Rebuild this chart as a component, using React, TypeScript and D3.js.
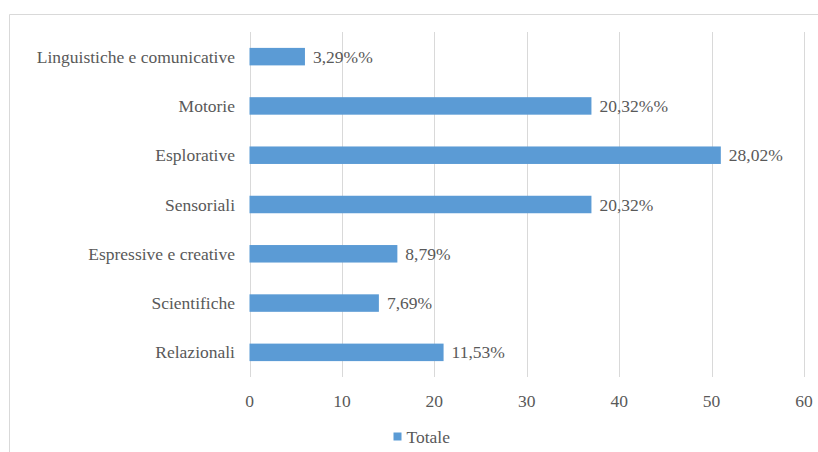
import React from "react";
import * as d3 from "d3";

const categories = [
  "Linguistiche e comunicative",
  "Motorie",
  "Esplorative",
  "Sensoriali",
  "Espressive e creative",
  "Scientifiche",
  "Relazionali",
];
const values = [6, 37, 51, 37, 16, 14, 21];
const valueLabels = ["3,29%%", "20,32%%", "28,02%", "20,32%", "8,79%", "7,69%", "11,53%"];
const xTicks = [0, 10, 20, 30, 40, 50, 60];
const seriesName = "Totale";

const W = 818;
const H = 452;
const FONT = "Liberation Serif, Tinos, Times New Roman, DejaVu Serif, serif";
const TEXT = "#595959";
const GRID = "#D9D9D9";
const BAR = "#5B9BD5";

export default function App() {
  const x = d3.scaleLinear().domain([0, 60]).range([249.5, 804]);
  const y = d3
    .scaleBand<string>()
    .domain(categories)
    .range([32, 377])
    .paddingInner(0.645)
    .paddingOuter(0.3225);
  const bh = y.bandwidth();
  const ts: React.CSSProperties = { fontFamily: FONT, fontSize: "17.5px" };

  return (
    <svg
      width={W}
      height={H}
      style={{ position: "absolute", left: 0, top: 0, background: "#fff" }}
    >
      <rect x={0} y={0} width={W} height={H} fill="#fff" />
      <line x1={9.5} y1={14.5} x2={818} y2={14.5} stroke={GRID} strokeWidth={1} />
      <line x1={9.5} y1={14.5} x2={9.5} y2={452} stroke={GRID} strokeWidth={1} />
      {xTicks.map((t) => (
        <line
          key={"g" + t}
          x1={Math.round(x(t)) + 0.5}
          x2={Math.round(x(t)) + 0.5}
          y1={32}
          y2={377}
          stroke={GRID}
          strokeWidth={1}
        />
      ))}
      {xTicks.map((t) => (
        <text key={"t" + t} x={x(t)} y={401} dy="0.35em" textAnchor="middle" style={ts} fill={TEXT}>
          {t}
        </text>
      ))}
      {categories.map((c, i) => (
        <rect
          key={"b" + c}
          x={x(0)}
          y={y(c)!}
          width={x(values[i]) - x(0)}
          height={bh}
          fill={BAR}
        />
      ))}
      {categories.map((c) => (
        <text
          key={"c" + c}
          x={235}
          y={y(c)! + bh / 2}
          dy="0.35em"
          textAnchor="end"
          style={ts}
          fill={TEXT}
        >
          {c}
        </text>
      ))}
      {categories.map((c, i) => (
        <text
          key={"v" + c}
          x={x(values[i]) + 8}
          y={y(c)! + bh / 2}
          dy="0.35em"
          style={ts}
          fill={TEXT}
        >
          {valueLabels[i]}
        </text>
      ))}
      <rect x={393.5} y={432.5} width={8} height={8} fill={BAR} />
      <text x={406.5} y={436.5} dy="0.35em" style={ts} fill={TEXT}>
        {seriesName}
      </text>
    </svg>
  );
}
